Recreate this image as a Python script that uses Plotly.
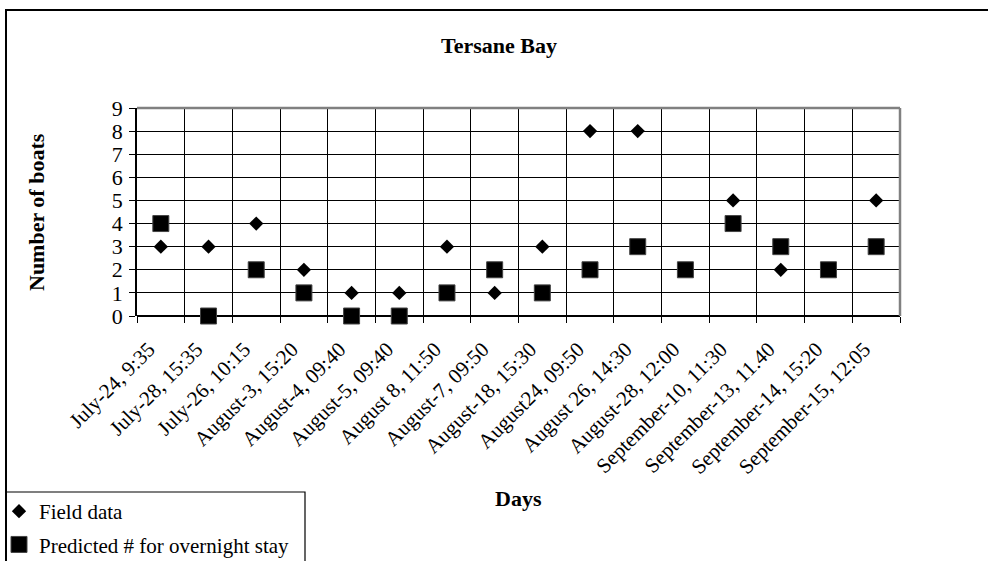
import plotly.graph_objects as go

# Observation times at Tersane Bay
days = [
    "July-24, 9:35", "July-28, 15:35", "July-26, 10:15", "August-3, 15:20",
    "August-4, 09:40", "August-5, 09:40", "August 8, 11:50", "August-7, 09:50",
    "August-18, 15:30", "August24, 09:50", "August 26, 14:30", "August-28, 12:00",
    "September-10, 11:30", "September-13, 11.40", "September-14, 15:20",
    "September-15, 12:05",
]
field_data = [3, 3, 4, 2, 1, 1, 3, 1, 3, 8, 8, 2, 5, 2, 2, 5]
predicted_overnight = [4, 0, 2, 1, 0, 0, 1, 2, 1, 2, 3, 2, 4, 3, 2, 3]
y_ticks = list(range(0, 10))

FONT = "Liberation Serif, Times New Roman, serif"
W, H = 988, 561
L, R, T, B = 137, 88, 108, 245
PW, PH = W - L - R, H - T - B

x_pos = list(range(len(days)))
boundaries = [i - 0.5 for i in range(len(days) + 1)]


def px_x(px):
    return (px - L) / PW


def px_y(py):
    return (H - B - py) / PH


fig = go.Figure()
fig.add_trace(go.Scatter(
    x=x_pos, y=field_data, mode="markers", name="Field data",
    legendgroup="a",
    marker=dict(symbol="diamond", size=11, color="black", line=dict(width=0)),
    cliponaxis=False,
))
fig.add_trace(go.Scatter(
    x=x_pos, y=predicted_overnight, mode="markers",
    name="Predicted # for overnight stay", legendgroup="b",
    marker=dict(symbol="square", size=16, color="black",
                line=dict(width=1, color="#444")),
    cliponaxis=False,
))

fig.update_layout(
    width=W, height=H,
    margin=dict(l=L, r=R, t=T, b=B, autoexpand=False),
    paper_bgcolor="white", plot_bgcolor="white",
    font=dict(family=FONT, color="black"),
    showlegend=True,
    legend=dict(
        x=px_x(-1), y=px_y(491), xanchor="left", yanchor="top",
        font=dict(family=FONT, size=21, color="black"),
        bgcolor="rgba(0,0,0,0)", borderwidth=0,
        tracegroupgap=3, traceorder="grouped",
    ),
    xaxis=dict(
        range=[-0.5, len(days) - 0.5], automargin=False,
        tickmode="array", tickvals=x_pos, ticktext=days,
        tickangle=-45, ticks="", showgrid=False, zeroline=False,
        tickfont=dict(family=FONT, size=21, color="black"),
        ticklabelstandoff=16, ticklabelshift=-12,
        showline=False,
        minor=dict(tickmode="array", tickvals=boundaries, ticks="outside",
                   ticklen=6, tickcolor="black", tickwidth=1,
                   showgrid=True, gridcolor="black", gridwidth=1),
    ),
    yaxis=dict(
        range=[0, 9], tickmode="array", tickvals=y_ticks, automargin=False,
        ticks="outside", ticklen=6, tickcolor="black", tickwidth=1,
        showgrid=True, gridcolor="black", gridwidth=1,
        zeroline=True, zerolinecolor="black", zerolinewidth=2,
        showline=True, linecolor="black", linewidth=1.5,
        tickfont=dict(family=FONT, size=22, color="black"),
        ticklabelstandoff=2,
    ),
    annotations=[
        dict(text="<b>Tersane Bay</b>", xref="paper", yref="paper",
             x=px_x(499), y=px_y(46), xanchor="center", yanchor="middle",
             showarrow=False, font=dict(family=FONT, size=22)),
        dict(text="<b>Number of boats</b>", xref="paper", yref="paper",
             x=px_x(36), y=0.5, xanchor="center", yanchor="middle",
             textangle=-90, showarrow=False, font=dict(family=FONT, size=22)),
        dict(text="<b>Days</b>", xref="paper", yref="paper",
             x=0.5, y=px_y(498), xanchor="center", yanchor="middle",
             showarrow=False, font=dict(family=FONT, size=22)),
    ],
    shapes=[
        # gray frame on the top and right of the plotting area
        dict(type="line", xref="paper", yref="paper", x0=0, x1=1, y0=1, y1=1,
             line=dict(color="#808080", width=2.5)),
        dict(type="line", xref="paper", yref="paper", x0=1, x1=1, y0=0, y1=1,
             line=dict(color="#808080", width=2.5)),
        # outer chart border
        dict(type="rect", xref="paper", yref="paper",
             x0=px_x(6), x1=px_x(1010), y0=px_y(10), y1=px_y(600),
             line=dict(color="black", width=2), layer="below"),
        # legend box
        dict(type="rect", xref="paper", yref="paper",
             x0=px_x(6), x1=px_x(305), y0=px_y(492), y1=px_y(600),
             line=dict(color="black", width=1.2), layer="below"),
    ],
)

fig.write_html("out.html")
